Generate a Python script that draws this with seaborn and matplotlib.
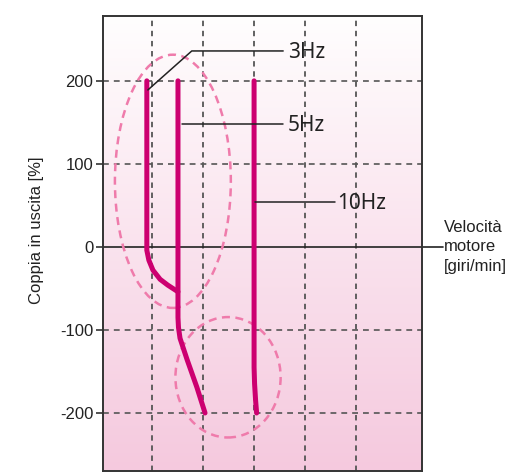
import numpy as np
import pandas as pd
import matplotlib
matplotlib.use("Agg")
import matplotlib.pyplot as plt
import seaborn as sns
from matplotlib.patches import Ellipse
from matplotlib.colors import LinearSegmentedColormap

# curve data (x in grid units, y = torque %)
x_3hz = [0.90, 0.90, 0.90, 0.94, 1.02, 1.16, 1.31, 1.51]
y_3hz = [200, 0, -4, -16, -28, -39, -46, -54]
x_5hz = [1.51, 1.51, 1.52, 1.55, 1.69, 1.88, 2.04]
y_5hz = [200, -85, -97, -110, -136, -169, -200]
x_10hz = [3.00, 3.00, 3.01, 3.03, 3.05]
y_10hz = [200, -145, -165, -185, -200]

y_ticks = [-200, -100, 0, 100, 200]
x_grid = [1, 2, 3, 4, 5]
labels = ["3Hz", "5Hz", "10Hz"]

curves = pd.concat([
    pd.DataFrame({"x": x_3hz, "y": y_3hz, "f": "3Hz"}),
    pd.DataFrame({"x": x_5hz, "y": y_5hz, "f": "5Hz"}),
    pd.DataFrame({"x": x_10hz, "y": y_10hz, "f": "10Hz"}),
])

sns.set_style("white")
plt.rcParams["font.family"] = ["Liberation Sans", "DejaVu Sans"]

fig = plt.figure(figsize=(5.25, 4.73), dpi=100)
ax = fig.add_axes([0.196, 0.004, 0.608, 0.962])
xmin, xmax = 0.04, 6.29
ymin, ymax = -270, 278

# pink gradient background (white on top, pink at the bottom)
cmap = LinearSegmentedColormap.from_list("pk", ["#f5c9de", "#fae3ee", "#fffefe"])
grad = np.linspace(0, 1, 256).reshape(-1, 1)
ax.imshow(grad, cmap=cmap, extent=[xmin, xmax, ymin, ymax], origin="lower",
          aspect="auto", zorder=0)

# grid
for gx in x_grid:
    ax.axvline(gx, color="#555555", lw=1.3, dashes=(3, 2.6), zorder=1)
for gy in y_ticks:
    if gy != 0:
        ax.axhline(gy, color="#555555", lw=1.2, dashes=(3.5, 3), zorder=1)
ax.plot([xmin, 6.69], [0, 0], color="#222222", lw=1.2, clip_on=False, zorder=2)

# dashed ellipses
ax.add_patch(Ellipse((1.41, 79), 2.27, 305, fill=False, ec="#ef7bab", lw=1.8,
                     ls=(0, (3.2, 2.2)), zorder=2))
ax.add_patch(Ellipse((2.49, -157), 2.06, 145, fill=False, ec="#ef7bab", lw=1.8,
                     ls=(0, (3.2, 2.2)), zorder=2))

sns.lineplot(data=curves, x="x", y="y", units="f", estimator=None, sort=False,
             color="#cc0070", lw=3.6, ax=ax, zorder=3, legend=False)
for ln in ax.get_lines()[-3:]:
    ln.set_solid_capstyle("round")
    ln.set_solid_joinstyle("round")

# leader lines and labels
lab_font = ["Noto Sans", "DejaVu Sans"]
ax.plot([0.92, 1.78, 3.57], [189, 236, 236], color="#222222", lw=1.1, zorder=4)
ax.text(3.66, 234, labels[0], fontsize=15, family=lab_font, color="#222222",
        va="center", ha="left")
ax.plot([1.59, 3.57], [148, 148], color="#222222", lw=1.1, zorder=4)
ax.text(3.66, 146, labels[1], fontsize=15, family=lab_font, color="#222222",
        va="center", ha="left")
ax.plot([3.02, 4.59], [54, 54], color="#222222", lw=1.1, zorder=4)
ax.text(4.62, 52, labels[2], fontsize=15, family=lab_font, color="#222222",
        va="center", ha="left")

ax.text(6.72, 0, "Velocità\nmotore\n[giri/min]", fontsize=12, color="#222222",
        va="center", ha="left", linespacing=1.4, clip_on=False)

ax.set_xlim(xmin, xmax)
ax.set_ylim(ymin, ymax)
ax.set_xticks([])
ax.set_yticks(y_ticks)
ax.set_yticklabels([str(t) for t in y_ticks], fontsize=12, color="#222222")
ax.tick_params(axis="y", direction="out", length=5, width=1.2, color="#333333", pad=2, left=True)
ax.set_xlabel("")
ax.set_ylabel("Coppia in uscita [%]", fontsize=12, color="#222222")
ax.yaxis.set_label_coords(-0.207, 0.53)
ax.yaxis.label.set_va("center")
for s in ax.spines.values():
    s.set_color("#333333")
    s.set_linewidth(1.4)
    s.set_zorder(5)

fig.savefig("out.png", dpi=100)
